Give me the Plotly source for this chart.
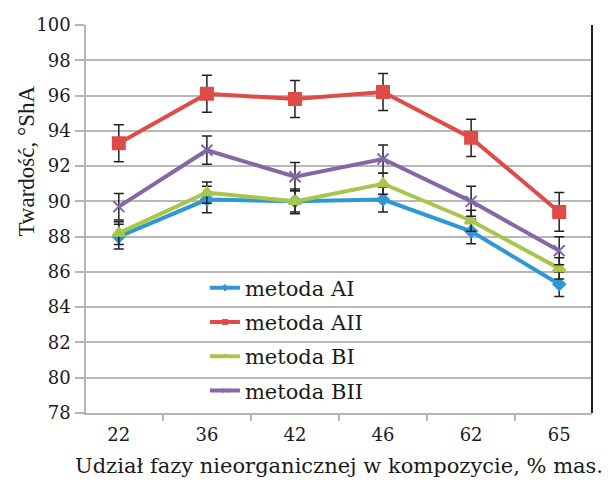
import plotly.graph_objects as go

# Hardness (Shore A) vs. inorganic phase content, four preparation methods
categories = ["22", "36", "42", "46", "62", "65"]

metoda_AI = [88.0, 90.1, 90.0, 90.1, 88.3, 85.3]
metoda_AII = [93.3, 96.1, 95.8, 96.2, 93.6, 89.4]
metoda_BI = [88.2, 90.5, 90.0, 91.0, 88.9, 86.2]
metoda_BII = [89.7, 92.9, 91.4, 92.4, 90.0, 87.2]

err_AI = [0.7, 0.75, 0.7, 0.7, 0.7, 0.7]
err_AII = [1.05, 1.05, 1.05, 1.05, 1.05, 1.1]
err_BI = [0.65, 0.6, 0.6, 0.6, 0.6, 0.6]
err_BII = [0.75, 0.8, 0.8, 0.8, 0.85, 0.8]

y_ticks = list(range(78, 101, 2))

series = [
    ("metoda AI", metoda_AI, err_AI, "#2f98d4", "diamond", 9),
    ("metoda AII", metoda_AII, err_AII, "#df4b47", "square", 12),
    ("metoda BI", metoda_BI, err_BI, "#a8c64c", "triangle-up", 11),
    ("metoda BII", metoda_BII, err_BII, "#8467a6", "x-thin", 11),
]

FONT = "DejaVu Serif, Liberation Serif, serif"

fig = go.Figure()
for i, (name, vals, errs, color, symbol, size) in enumerate(series):
    fig.add_trace(go.Scatter(
        x=categories, y=vals, name=name, mode="lines+markers",
        legendgroup=f"g{i}", showlegend=False,
        line=dict(color=color, width=4),
        marker=dict(symbol=symbol, size=size, color=color,
                    line=dict(color=color, width=2)),
        error_y=dict(type="data", array=errs, visible=True,
                     color="#222222", thickness=1.5, width=5),
    ))
    # legend key: thick line with a small marker
    fig.add_trace(go.Scatter(
        x=[None], y=[None], name=name, mode="lines+markers",
        legendgroup=f"g{i}", showlegend=True,
        line=dict(color=color, width=4),
        marker=dict(symbol=symbol, size=5, color=color,
                    line=dict(color=color, width=1)),
    ))

fig.add_shape(type="line", xref="paper", yref="paper",
              x0=1, x1=1, y0=0, y1=1,
              line=dict(color="#222222", width=2))

# y-axis title, placed as a rotated annotation
fig.add_annotation(
    text="Twardość, °ShA", textangle=-90,
    xref="paper", yref="paper", x=-0.117, y=0.65,
    xanchor="center", yanchor="middle", showarrow=False,
    font=dict(family="Liberation Serif, serif", size=23, color="#1a1a1a"),
)

fig.update_layout(
    width=616, height=488,
    margin=dict(l=86, r=24, t=25, b=75),
    paper_bgcolor="white", plot_bgcolor="white",
    font=dict(family=FONT, size=18, color="#1a1a1a"),
    showlegend=True,
    legend=dict(x=0.235, y=0.375, xanchor="left", yanchor="top",
                bgcolor="rgba(0,0,0,0)", font=dict(size=21),
                tracegroupgap=4, traceorder="grouped",
                itemwidth=30),
    xaxis=dict(
        type="category", showgrid=False,
        showline=True, linecolor="#b5b5b5", linewidth=1.5,
        ticks="outside", tickson="boundaries", ticklen=6,
        tickcolor="#b5b5b5", tickwidth=1.5,
        ticklabelstandoff=5,
        title=dict(text="Udział fazy nieorganicznej w kompozycie, % mas.",
                   standoff=14, font=dict(size=21)),
        tickfont=dict(size=18),
    ),
    yaxis=dict(
        range=[78, 100], tickvals=y_ticks,
        showgrid=True, gridcolor="#b8b8b8", gridwidth=1.5,
        showline=True, linecolor="#b5b5b5", linewidth=1.5,
        ticks="outside", ticklen=9, tickcolor="#b5b5b5", tickwidth=1.5,
        ticklabelstandoff=1,
        zeroline=False,
        tickfont=dict(size=18),
    ),
)

fig.write_html("out.html")
